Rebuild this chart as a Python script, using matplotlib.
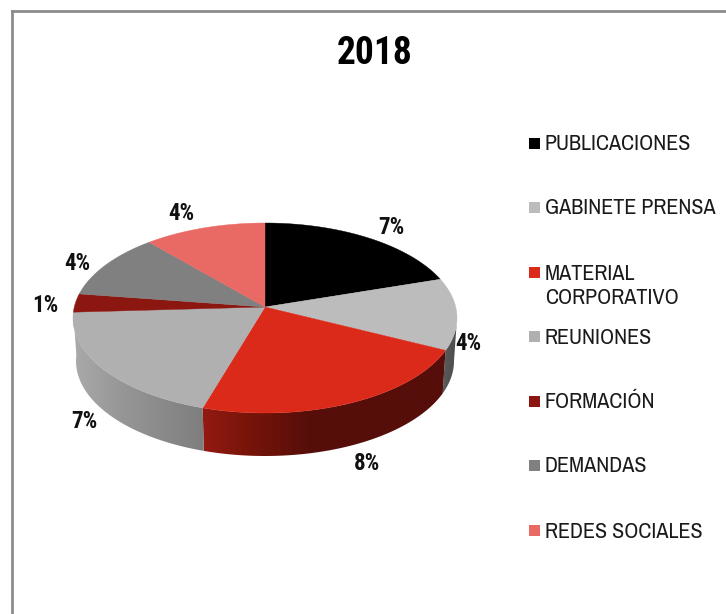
import numpy as np
import matplotlib
matplotlib.use('Agg')
import matplotlib.pyplot as plt
from matplotlib.patches import Polygon, Rectangle

categories = ['PUBLICACIONES', 'GABINETE PRENSA', 'MATERIAL\nCORPORATIVO', 'REUNIONES',
              'FORMACIÓN', 'DEMANDAS', 'REDES SOCIALES']
# slice sizes as seen in the picture (the printed labels are rounded differently)
shares = [18.3, 12.2, 24.7, 20.7, 3.1, 10.6, 10.3]
pct_labels = ['7%', '4%', '8%', '7%', '1%', '4%', '4%']
colors = ['#000000', '#bcbcbc', '#dc2a1a', '#b0b0b0', '#8c1610', '#808080', '#e96a64']
title = '2018'

narrow = ['Archivo Narrow', 'Liberation Sans', 'DejaVu Sans']
narrow_bold = ['Roboto Condensed', 'Encode Sans Condensed', 'Liberation Sans', 'DejaVu Sans']
plt.rcParams['font.family'] = narrow

# pixel coordinates, same as the reference
fig = plt.figure(figsize=(7.26, 6.14), dpi=100)
ax = fig.add_axes([0, 0, 1, 1])
ax.set_xlim(0, 726)
ax.set_ylim(614, 0)
ax.axis('off')

# pie geometry (perspective: apex sits above the ellipse centre)
cx, cy, rx, ry = 265, 318, 192, 95
apex_y = 307
depth, rx_bottom = 43, 189


def top_xy(t):
    return cx + rx * np.cos(t), cy - ry * np.sin(t)


def bottom_xy(t):
    return cx + rx_bottom * np.cos(t), cy + depth - ry * np.sin(t)


# side wall shading per slice, by x position
wall_stops = {
    1: ([445, 457], ['#585858', '#4a4a4a']),
    2: ([203, 250, 310, 445], ['#931a12', '#761409', '#560e0a', '#560e0a']),
    3: ([73, 120, 203], ['#aaaaaa', '#979797', '#7e7e7e']),
}

edges = np.radians(90 - np.cumsum([0] + shares) * 360 / sum(shares))

# side walls first, a gradient image clipped to each wall
for i, (xs_stop, cols) in wall_stops.items():
    ts = np.linspace(edges[i], edges[i + 1], 200)
    ts = ts[ts <= 0]
    xt, yt = top_xy(ts)
    xb, yb = bottom_xy(ts)
    pts = np.column_stack([np.r_[xt, xb[::-1]], np.r_[yt, yb[::-1]]])
    wall = Polygon(pts, closed=True, facecolor='none', edgecolor='none', transform=ax.transData)
    ax.add_patch(wall)
    x0, x1 = pts[:, 0].min() - 1, pts[:, 0].max() + 1
    grid = np.linspace(x0, x1, 300)
    rgb = np.array([matplotlib.colors.to_rgb(c) for c in cols])
    img = np.stack([np.interp(grid, xs_stop, rgb[:, k]) for k in range(3)], axis=1)[None, :, :]
    im = ax.imshow(img, extent=(x0, x1, pts[:, 1].max() + 1, pts[:, 1].min() - 1), aspect='auto', interpolation='bilinear')
    im.set_clip_path(wall)
ax.set_xlim(0, 726)
ax.set_ylim(614, 0)

# top face
for i in range(len(shares)):
    ts = np.linspace(edges[i], edges[i + 1], 100)
    xs, ys = top_xy(ts)
    pts = np.column_stack([np.r_[cx, xs], np.r_[apex_y, ys]])
    ax.add_patch(Polygon(pts, closed=True, facecolor=colors[i], edgecolor=colors[i], linewidth=0.3))

# percent labels
label_x = [391, 468, 367, 84, 45, 77, 181]
label_y = [228, 344, 464, 422, 306, 263, 213]
for s, x, y in zip(pct_labels, label_x, label_y):
    ax.text(x, y, s, fontsize=16.5, fontweight='bold', family=narrow_bold, color='#111111', ha='center', va='center')

ax.text(374.5, 54, title, fontsize=27, fontweight='bold', family=narrow_bold, color='#000000', ha='center', va='center')

# legend
legend_y = [143, 207, 272, 336, 401, 465, 530]
for name, col, y in zip(categories, colors, legend_y):
    ax.add_patch(Rectangle((529, y - 5.5), 11, 11, facecolor=col, edgecolor='none'))
    n = name.count('\n')
    ax.text(545, y + 7.5 + 25 * n, name, fontsize=15.9, color='#1a1a1a', ha='left', va='baseline',
            linespacing=1.25)

# chart frame, cut off by the image edges
ax.plot([12, 12], [614, 11], color='#8c8c8c', lw=2, solid_capstyle='projecting')
ax.plot([12, 726], [11, 11], color='#8c8c8c', lw=2, solid_capstyle='projecting')

fig.savefig('out.png', dpi=100)
